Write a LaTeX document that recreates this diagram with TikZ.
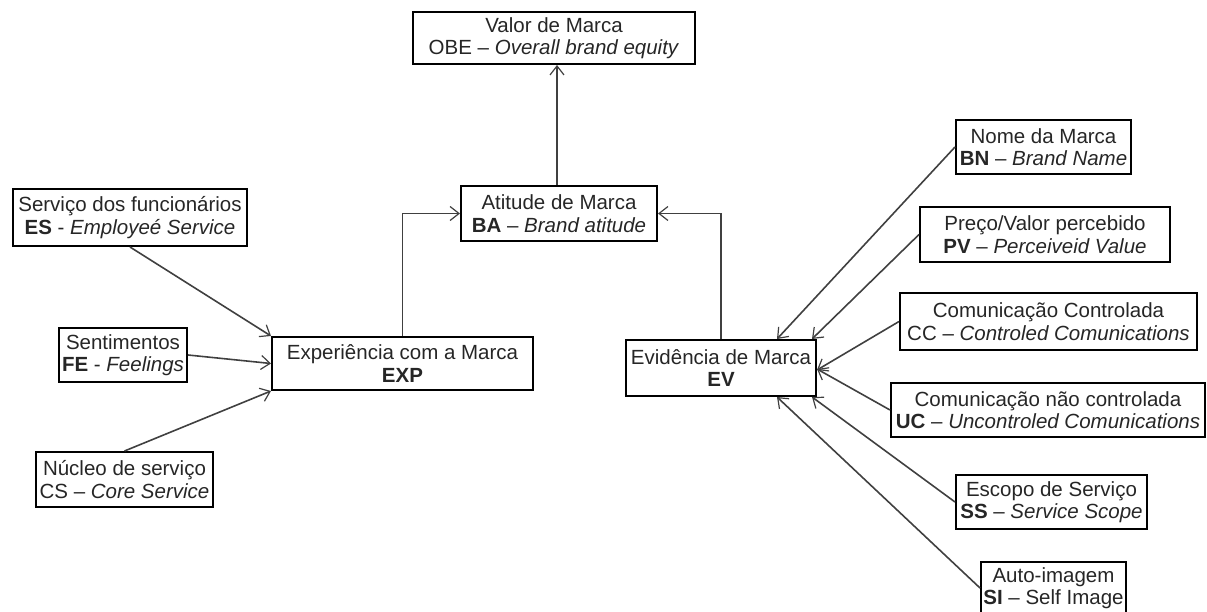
\documentclass[tikz,border=0pt]{standalone}
\usepackage{fontspec}
\setmainfont{Liberation Sans}
\usetikzlibrary{arrows.meta}
\tikzset{
  box/.style={draw=black, line width=2pt, inner sep=0pt, align=center,
    font=\fontsize{20.5}{22.5}\selectfont, text=black!85},
  arr/.style={draw=black!75, line width=1.6pt,
    -{Straight Barb[length=9pt,width=14pt,line width=1.2pt]}}
}
\begin{document}
\begin{tikzpicture}[x=1pt,y=-1pt]
\useasboundingbox (0,0) rectangle (1207,612);
% top / middle
\node[box, minimum width=282, minimum height=52] (OBE) at (554,38)
  {Valor de Marca\\OBE -- \textit{Overall brand equity}};
\node[box, minimum width=196, minimum height=55] (BA) at (559,213.5)
  {Atitude de Marca\\\textbf{BA} -- \textit{Brand atitude}};
% left
\node[box, minimum width=234, minimum height=57] (ES) at (130,217.5)
  {Serviço dos funcionários\\\textbf{ES} - \textit{Employeé Service}};
\node[box, minimum width=128, minimum height=54] (FE) at (123,355)
  {Sentimentos\\\textbf{FE} - \textit{Feelings}};
\node[box, minimum width=177, minimum height=55] (CS) at (124.5,479.5)
  {Núcleo de serviço\\CS -- \textit{Core Service}};
\node[box, minimum width=261, minimum height=53] (EXP) at (402.5,363.5)
  {Experiência com a Marca\\\textbf{EXP}};
% right
\node[box, minimum width=190, minimum height=56] (EV) at (721,368)
  {Evidência de Marca\\\textbf{EV}};
\node[box, minimum width=175, minimum height=54] (BN) at (1043.5,147)
  {Nome da Marca\\\textbf{BN} -- \textit{Brand Name}};
\node[box, minimum width=250, minimum height=55] (PV) at (1045,234.5)
  {Preço/Valor percebido\\\textbf{PV} -- \textit{Perceiveid Value}};
\node[box, minimum width=297, minimum height=57] (CC) at (1048.5,321.5)
  {Comunicação Controlada\\CC -- \textit{Controled Comunications}};
\node[box, minimum width=314, minimum height=54] (UC) at (1048,410)
  {Comunicação não controlada\\\textbf{UC} -- \textit{Uncontroled Comunications}};
\node[box, minimum width=191, minimum height=54] (SS) at (1051.5,502)
  {Escopo de Serviço\\\textbf{SS} -- \textit{Service Scope}};
\node[box, minimum width=145, minimum height=52] (SI) at (1053.5,588)
  {Auto-imagem\\\textbf{SI} -- Self Image};
% connectors
\draw[arr] (BA.north -| OBE.south) ++(3,0) coordinate (bat) -- (bat |- OBE.south);
\draw[arr] (EXP.north) |- (BA.west);
\draw[arr] (EV.north) |- (BA.east);
\draw[arr] (ES.south) -- (EXP.north west);
\draw[arr] (FE.east) -- (EXP.west);
\draw[arr] (CS.north) -- (EXP.south west);
\draw[arr] (BN.west) -- ([xshift=-40pt]EV.north east);
\draw[arr] (PV.west) -- ([xshift=-5pt]EV.north east);
\draw[arr] (CC.west) -- ([yshift=-2pt]EV.east);
\draw[arr] (UC.west) -- ([yshift=-1pt]EV.east);
\draw[arr] (SS.west) -- ([xshift=-5pt]EV.south east);
\draw[arr] (SI.west) -- ([xshift=-40pt]EV.south east);
\end{tikzpicture}
\end{document}
